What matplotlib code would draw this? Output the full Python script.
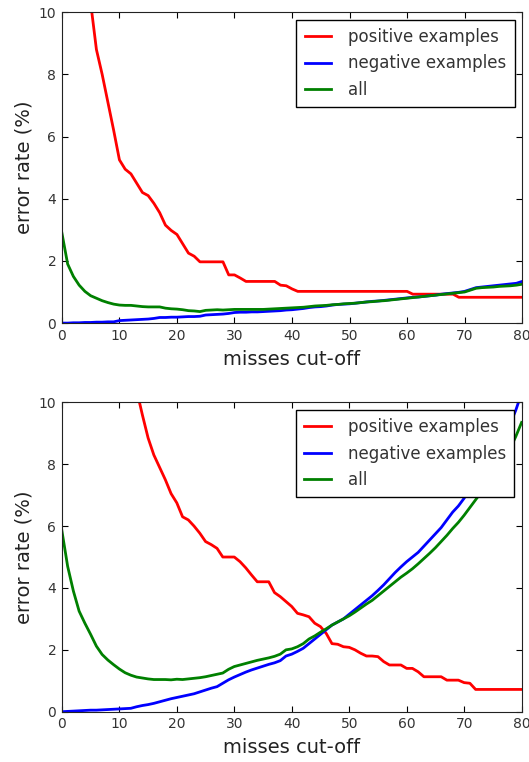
import matplotlib
matplotlib.use("Agg")
import matplotlib.pyplot as plt
import numpy as np

x = list(range(81))

top_pos = [40, 30, 22, 16, 12.5, 10.3, 8.8, 8.0, 7.1, 6.2,
           5.25, 4.95, 4.8, 4.5, 4.2, 4.1, 3.85, 3.55, 3.15, 2.98,
           2.85, 2.55, 2.25, 2.15, 1.97, 1.97, 1.97, 1.97, 1.97, 1.55,
           1.55, 1.45, 1.34, 1.34, 1.34, 1.34, 1.34, 1.34, 1.22, 1.2,
           1.1, 1.02, 1.02, 1.02, 1.02, 1.02, 1.02, 1.02, 1.02, 1.02,
           1.02, 1.02, 1.02, 1.02, 1.02, 1.02, 1.02, 1.02, 1.02, 1.02,
           1.02, 0.93, 0.93, 0.93, 0.93, 0.93, 0.93, 0.93, 0.93, 0.83,
           0.83, 0.83, 0.83, 0.83, 0.83, 0.83, 0.83, 0.83, 0.83, 0.83, 0.83]
top_neg = [0.0, 0.0, 0.01, 0.01, 0.02, 0.02, 0.03, 0.03, 0.04, 0.04,
           0.08, 0.09, 0.1, 0.11, 0.12, 0.13, 0.15, 0.18, 0.18, 0.19,
           0.19, 0.2, 0.21, 0.21, 0.22, 0.26, 0.27, 0.28, 0.29, 0.31,
           0.34, 0.35, 0.35, 0.36, 0.36, 0.37, 0.38, 0.39, 0.4, 0.42,
           0.43, 0.45, 0.47, 0.5, 0.52, 0.53, 0.55, 0.58, 0.6, 0.61,
           0.62, 0.64, 0.66, 0.68, 0.7, 0.71, 0.73, 0.75, 0.77, 0.79,
           0.81, 0.83, 0.84, 0.86, 0.88, 0.9, 0.93, 0.95, 0.97, 0.99,
           1.02, 1.08, 1.14, 1.16, 1.18, 1.2, 1.22, 1.24, 1.26, 1.28, 1.34]
top_all = [2.9, 1.9, 1.5, 1.22, 1.02, 0.88, 0.8, 0.72, 0.66, 0.61,
           0.58, 0.57, 0.57, 0.55, 0.53, 0.52, 0.52, 0.52, 0.48, 0.46,
           0.45, 0.43, 0.4, 0.39, 0.37, 0.41, 0.42, 0.43, 0.42, 0.43,
           0.44, 0.44, 0.44, 0.44, 0.44, 0.44, 0.45, 0.46, 0.47, 0.48,
           0.49, 0.5, 0.51, 0.53, 0.55, 0.56, 0.57, 0.59, 0.6, 0.62,
           0.63, 0.64, 0.66, 0.68, 0.69, 0.71, 0.72, 0.74, 0.76, 0.78,
           0.8, 0.82, 0.84, 0.86, 0.88, 0.9, 0.92, 0.94, 0.96, 0.98,
           1.0, 1.06, 1.12, 1.14, 1.15, 1.16, 1.18, 1.19, 1.2, 1.22, 1.25]

bot_pos = [60, 50, 42, 36, 31, 27, 23.5, 20.5, 18, 16,
           14.2, 12.6, 11.4, 10.4, 9.6, 8.85, 8.3, 7.9, 7.5, 7.05,
           6.75, 6.3, 6.2, 6.0, 5.77, 5.5, 5.4, 5.28, 5.0, 5.0,
           5.0, 4.85, 4.65, 4.42, 4.2, 4.2, 4.2, 3.85, 3.72, 3.56,
           3.4, 3.18, 3.13, 3.07, 2.86, 2.75, 2.53, 2.2, 2.18, 2.1,
           2.08, 2.0, 1.89, 1.8, 1.8, 1.78, 1.62, 1.51, 1.51, 1.51,
           1.4, 1.4, 1.29, 1.13, 1.13, 1.13, 1.13, 1.02, 1.02, 1.02,
           0.94, 0.92, 0.72, 0.72, 0.72, 0.72, 0.72, 0.72, 0.72, 0.72, 0.72]
bot_neg = [0.0, 0.01, 0.02, 0.03, 0.04, 0.05, 0.05, 0.06, 0.07, 0.08,
           0.09, 0.1, 0.11, 0.16, 0.2, 0.23, 0.27, 0.32, 0.37, 0.42,
           0.46, 0.5, 0.54, 0.58, 0.64, 0.7, 0.76, 0.81, 0.92, 1.03,
           1.12, 1.2, 1.28, 1.35, 1.41, 1.47, 1.53, 1.58, 1.65, 1.8,
           1.86, 1.95, 2.05, 2.2, 2.35, 2.5, 2.65, 2.8, 2.9, 3.0,
           3.15, 3.3, 3.45, 3.6, 3.75, 3.92, 4.1, 4.3, 4.5, 4.68,
           4.85, 5.0, 5.15, 5.35, 5.55, 5.75, 5.95, 6.2, 6.45, 6.65,
           6.9, 7.2, 7.45, 7.7, 7.95, 8.25, 8.55, 8.85, 9.3, 9.75, 10.3]
bot_all = [5.85, 4.7, 3.9, 3.25, 2.86, 2.5, 2.12, 1.85, 1.67, 1.52,
           1.38, 1.26, 1.18, 1.12, 1.09, 1.06, 1.04, 1.04, 1.04, 1.03,
           1.05, 1.04, 1.06, 1.08, 1.1, 1.13, 1.17, 1.21, 1.25, 1.37,
           1.46, 1.51, 1.56, 1.61, 1.66, 1.7, 1.74, 1.79, 1.86, 2.0,
           2.03, 2.1, 2.2, 2.35, 2.45, 2.57, 2.68, 2.8, 2.9, 3.0,
           3.1, 3.22, 3.35, 3.48, 3.6, 3.75, 3.9, 4.05, 4.2, 4.35,
           4.48, 4.62, 4.78, 4.95, 5.12, 5.3, 5.5, 5.7, 5.92, 6.12,
           6.35, 6.6, 6.85, 7.1, 7.35, 7.6, 7.85, 8.15, 8.5, 8.9, 9.35]

labels = ["positive examples", "negative examples", "all"]
colors = ["#ff0000", "#0000ff", "#008000"]
xticks = [0, 10, 20, 30, 40, 50, 60, 70, 80]
yticks = [0, 2, 4, 6, 8, 10]

fig = plt.figure(figsize=(5.29, 7.62), dpi=100)
ax1 = fig.add_axes([0.117, 0.576, 0.870, 0.408])
ax2 = fig.add_axes([0.117, 0.066, 0.869, 0.406])

for ax, series in [(ax1, (top_pos, top_neg, top_all)), (ax2, (bot_pos, bot_neg, bot_all))]:
    for s, c, l in zip(series, colors, labels):
        ax.plot(x, s, color=c, lw=2, label=l)
    ax.set_xlim(0, 80)
    ax.set_ylim(0, 10)
    ax.set_xticks(xticks)
    ax.set_yticks(yticks)
    ax.tick_params(direction="in", top=True, right=True, labelsize=10,
                   labelcolor="#333333", length=4, pad=4)
    for sp in ax.spines.values():
        sp.set_color("#222222")
    ax.set_xlabel("misses cut-off", fontsize=14, labelpad=5, color="#222222")
    ax.set_ylabel("error rate (%)", fontsize=14, labelpad=4, color="#222222")
    leg = ax.legend(loc="upper right", fontsize=12, fancybox=False,
                    framealpha=1, edgecolor="black", handlelength=1.6,
                    handletextpad=1.0, borderaxespad=0.45, borderpad=0.5,
                    labelspacing=0.5)
    leg.get_frame().set_linewidth(1.0)
    for t in leg.get_texts():
        t.set_color("#333333")

fig.savefig("out.png", dpi=100)
